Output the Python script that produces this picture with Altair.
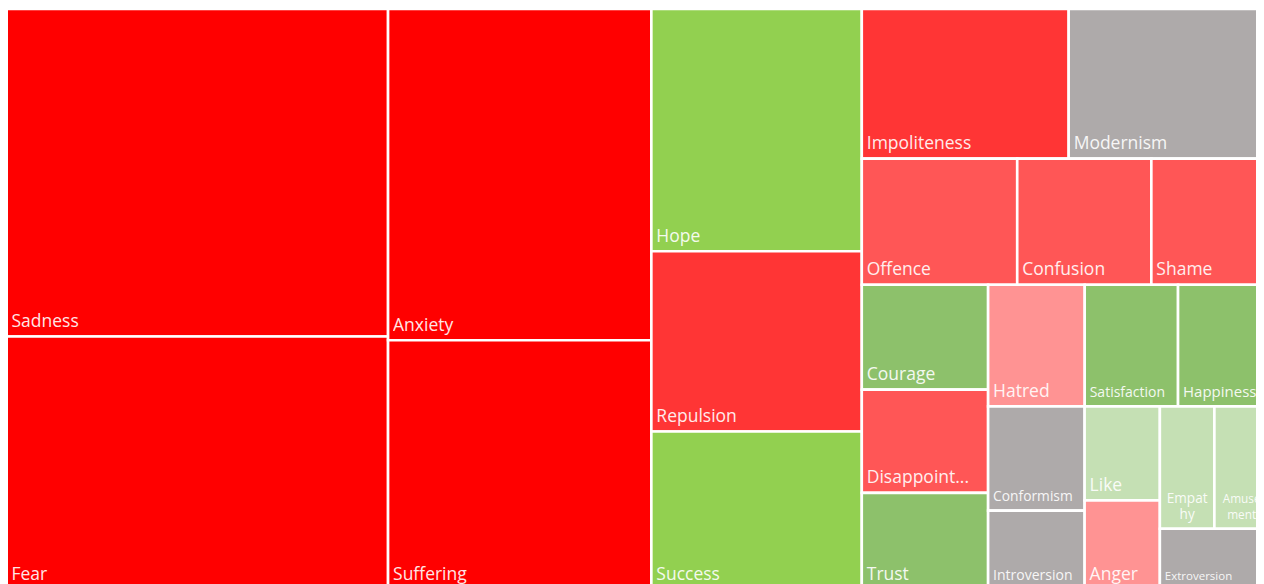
import altair as alt
import pandas as pd

# ---- data ----
names = ["Sadness", "Fear", "Anxiety", "Suffering", "Hope", "Repulsion", "Success",
         "Impoliteness", "Modernism", "Offence", "Confusion", "Shame", "Courage",
         "Disappointment", "Trust", "Hatred", "Satisfaction", "Happiness", "Conformism",
         "Introversion", "Like", "Anger", "Empathy", "Amusement", "Extroversion"]
values = [1255, 968, 876, 658, 512, 381, 333,
          311, 301, 197, 170, 149, 133,
          131, 122, 118, 114, 111, 101,
          76, 71, 67, 67, 67, 66]
tones = ["neg1", "neg1", "neg1", "neg1", "pos1", "neg2", "pos1",
         "neg2", "neutral", "neg3", "neg3", "neg3", "pos2",
         "neg3", "pos2", "neg4", "pos2", "pos2", "neutral",
         "neutral", "pos3", "neg4", "pos3", "pos3", "neutral"]

# ---- styles ----
TONE_DOMAIN = ["neg1", "neg2", "neg3", "neg4", "pos1", "pos2", "pos3", "neutral"]
TONE_COLORS = ["#FF0000", "#FF3535", "#FF5656", "#FF9393", "#92D050", "#8DC16B", "#C5E0B4", "#AEAAAA"]
BASE_FONT = 17.5
LABEL_SIZE = {"Satisfaction": 14, "Happiness": 15, "Conformism": 13.8, "Introversion": 14,
              "Extroversion": 11.5, "Empathy": 13.6, "Amusement": 11.8}
LABEL_TEXT = {"Disappointment": "Disappoint...", "Empathy": "Empat\nhy", "Amusement": "Amuse\nment"}
LINE_H = 16.5

# treemap canvas (the reference shows it cropped on the right and bottom)
TOTAL_W, TOTAL_H = 1270.5, 580.0
RATIO = 1.15


def squarify(keys, vals, x0, y0, x1, y1, ratio):
    """Squarified treemap (d3-style, with target aspect ratio)."""
    out = {}
    nodes = list(zip(keys, vals))
    value = float(sum(vals))
    n = len(nodes)
    i0 = i1 = 0
    while i0 < n:
        dx, dy = x1 - x0, y1 - y0
        sum_v = nodes[i1][1]
        i1 += 1
        min_v = max_v = sum_v
        alpha = max(dy / dx, dx / dy) / (value * ratio)
        beta = sum_v * sum_v * alpha
        min_ratio = max(max_v / beta, beta / min_v)
        while i1 < n:
            nv = nodes[i1][1]
            s2 = sum_v + nv
            mn, mx = min(min_v, nv), max(max_v, nv)
            beta = s2 * s2 * alpha
            new_ratio = max(mx / beta, beta / mn)
            if new_ratio > min_ratio:
                break
            sum_v, min_v, max_v, min_ratio = s2, mn, mx, new_ratio
            i1 += 1
        row = nodes[i0:i1]
        if dx < dy:  # row across the top
            yy = y0 + dy * sum_v / value if value else y1
            xx = x0
            for k, v in row:
                w = (x1 - x0) * v / sum_v
                out[k] = (xx, y0, xx + w, yy)
                xx += w
            y0 = yy
        else:  # column on the left
            xx = x0 + dx * sum_v / value if value else x1
            yy = y0
            for k, v in row:
                h = (y1 - y0) * v / sum_v
                out[k] = (x0, yy, xx, yy + h)
                yy += h
            x0 = xx
        value -= sum_v
        i0 = i1
    return out


rects = squarify(names, values, 0.0, 0.0, TOTAL_W, TOTAL_H, RATIO)

rows = []
for nm, v, t in zip(names, values, tones):
    a, b, c, d = rects[nm]
    lab = LABEL_TEXT.get(nm, nm)
    nlines = lab.count("\n") + 1
    rows.append(dict(name=nm, value=v, tone=t, x=a, x2=c, y=b, y2=d,
                     label=lab, size=LABEL_SIZE.get(nm, BASE_FONT),
                     lx=a + 5.0, cx=(a + c) / 2.0,
                     ly=d - 9.5 - (nlines - 1) * LINE_H,
                     wrapped=(nlines > 1)))
df = pd.DataFrame(rows)
df_single = df[~df["wrapped"]].drop(columns=["wrapped"])
df_wrap = df[df["wrapped"]].drop(columns=["wrapped"])
df = df.drop(columns=["wrapped"])

# visible window of the treemap canvas
xs = alt.Scale(domain=[1.5, 1257.5], nice=False, zero=False)
ys = alt.Scale(domain=[-1, 575], nice=False, zero=False, reverse=True)

cells = alt.Chart(df).mark_rect(stroke="white", strokeWidth=2.6, clip=True).encode(
    x=alt.X("x:Q", scale=xs, axis=None),
    x2="x2:Q",
    y=alt.Y("y:Q", scale=ys, axis=None),
    y2="y2:Q",
    color=alt.Color("tone:N", scale=alt.Scale(domain=TONE_DOMAIN, range=TONE_COLORS), legend=None),
    tooltip=["name:N", "value:Q"],
)

labels = alt.Chart(df_single).mark_text(
    align="left", baseline="alphabetic", font="Open Sans", color="white",
    opacity=0.9, clip=True,
).encode(
    x=alt.X("lx:Q", scale=xs, axis=None),
    y=alt.Y("ly:Q", scale=ys, axis=None),
    text="label:N",
    size=alt.Size("size:Q", scale=None, legend=None),
)

wrapped = alt.Chart(df_wrap).mark_text(
    align="center", baseline="alphabetic", font="Open Sans", color="white",
    opacity=0.9, clip=True, lineBreak="\n", lineHeight=LINE_H,
).encode(
    x=alt.X("cx:Q", scale=xs, axis=None),
    y=alt.Y("ly:Q", scale=ys, axis=None),
    text="label:N",
    size=alt.Size("size:Q", scale=None, legend=None),
)

chart = alt.layer(cells, labels, wrapped).properties(
    width=1248, height=576, padding=0,
    autosize=alt.AutoSizeParams(type="none"),
).configure_view(stroke=None)

chart.save("out.html", embed_options={"renderer": "svg", "actions": False})
